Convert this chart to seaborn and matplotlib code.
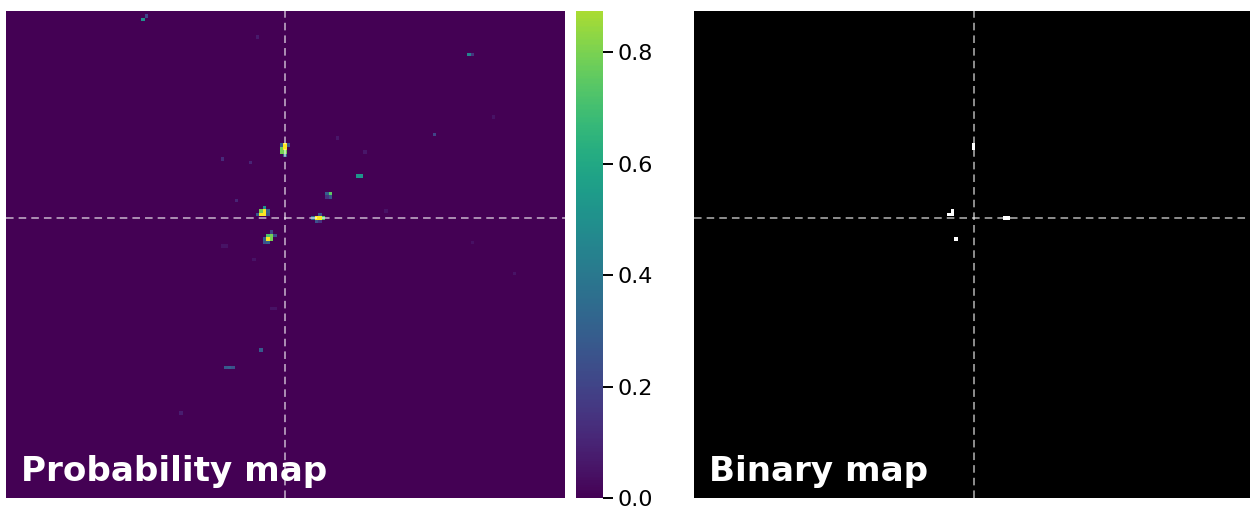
import numpy as np
import matplotlib
matplotlib.use("Agg")
import matplotlib.pyplot as plt
import seaborn as sns

# ---- data -------------------------------------------------------------
N_ROWS = 140
N_COLS = 161
CENTER_ROW = 59
CENTER_COL = 80
THRESHOLD = 0.8
CBAR_MAX = 0.874
CBAR_TICKS = [0.0, 0.2, 0.4, 0.6, 0.8]

cell_rows = [2, 1, 7, 12, 12, 30, 35, 36, 40, 42, 43, 47, 47,
             52, 52, 53, 53, 54, 57, 66, 67, 67, 71, 75, 85, 85, 97,
             102, 102, 102, 115,
             38, 38, 38, 39, 39, 40, 40, 41,
             56, 57, 57, 58, 58, 58, 57, 58,
             59, 59, 59, 59, 58, 60, 60,
             64, 64, 65, 65, 65, 66, 66, 63, 64]
cell_cols = [39, 40, 72, 133, 134, 140, 123, 95, 103, 62, 70, 101, 102,
             93, 92, 92, 93, 66, 109, 134, 62, 63, 71, 146, 76, 77, 73,
             63, 64, 65, 50,
             79, 80, 81, 79, 80, 79, 80, 80,
             74, 73, 74, 73, 74, 72, 75, 75,
             88, 89, 90, 91, 90, 89, 90,
             75, 76, 75, 76, 74, 74, 75, 76, 77]
cell_values = [0.50, 0.20, 0.07, 0.45, 0.15, 0.05, 0.20, 0.06, 0.06, 0.12, 0.10, 0.52, 0.52,
               0.75, 0.30, 0.15, 0.25, 0.10, 0.05, 0.04, 0.05, 0.05, 0.05, 0.05, 0.05, 0.05, 0.28,
               0.27, 0.30, 0.25, 0.08,
               0.30, 1.00, 0.25, 0.79, 1.00, 0.79, 0.79, 0.30,
               0.50, 0.79, 1.00, 1.00, 1.00, 0.30, 0.30, 0.25,
               0.35, 1.00, 1.00, 0.72, 0.25, 0.25, 0.15,
               0.72, 0.79, 1.00, 0.79, 0.30, 0.25, 0.30, 0.20, 0.25]

prob = np.zeros((N_ROWS, N_COLS))
prob[cell_rows, cell_cols] = cell_values
binary = (prob >= THRESHOLD).astype(float)

# ---- figure -------------------------------------------------------------
W, H = 1250, 509
fig = plt.figure(figsize=(W / 100, H / 100), dpi=100)
bottom = 11 / H
height = 487 / H
ax1 = fig.add_axes([5.7 / W, bottom, 559 / W, height])
cax = fig.add_axes([576 / W, bottom, 27 / W, height])
ax2 = fig.add_axes([694 / W, bottom, 559 / W, height])

sns.heatmap(prob, ax=ax1, cmap="viridis", vmin=0, vmax=1, cbar_ax=cax,
            xticklabels=False, yticklabels=False,
            cbar_kws={"boundaries": np.linspace(0, CBAR_MAX, 300),
                      "ticks": CBAR_TICKS})
sns.heatmap(binary, ax=ax2, cmap="gray", vmin=0, vmax=1, cbar=False,
            xticklabels=False, yticklabels=False)

cbar = ax1.collections[0].colorbar
cbar.outline.set_linewidth(0)
cbar.ax.tick_params(labelsize=16, length=7, width=1.4, colors="black")
cbar.ax.set_yticklabels([f"{t:.1f}" for t in CBAR_TICKS])

for ax, label in [(ax1, "Probability map"), (ax2, "Binary map")]:
    ax.axvline(CENTER_COL + 0.5, color="white", alpha=0.6, lw=1.3,
               linestyle=(0, (4.2, 2.8)))
    ax.axhline(CENTER_ROW + 0.5, color="white", alpha=0.6, lw=1.3,
               linestyle=(0, (4.2, 2.8)))
    ax.text(0.027, 0.035, label, transform=ax.transAxes, color="white",
            fontsize=24.6, fontweight="bold", ha="left", va="baseline")
    for s in ax.spines.values():
        s.set_visible(False)

fig.savefig("out.png", dpi=100)
